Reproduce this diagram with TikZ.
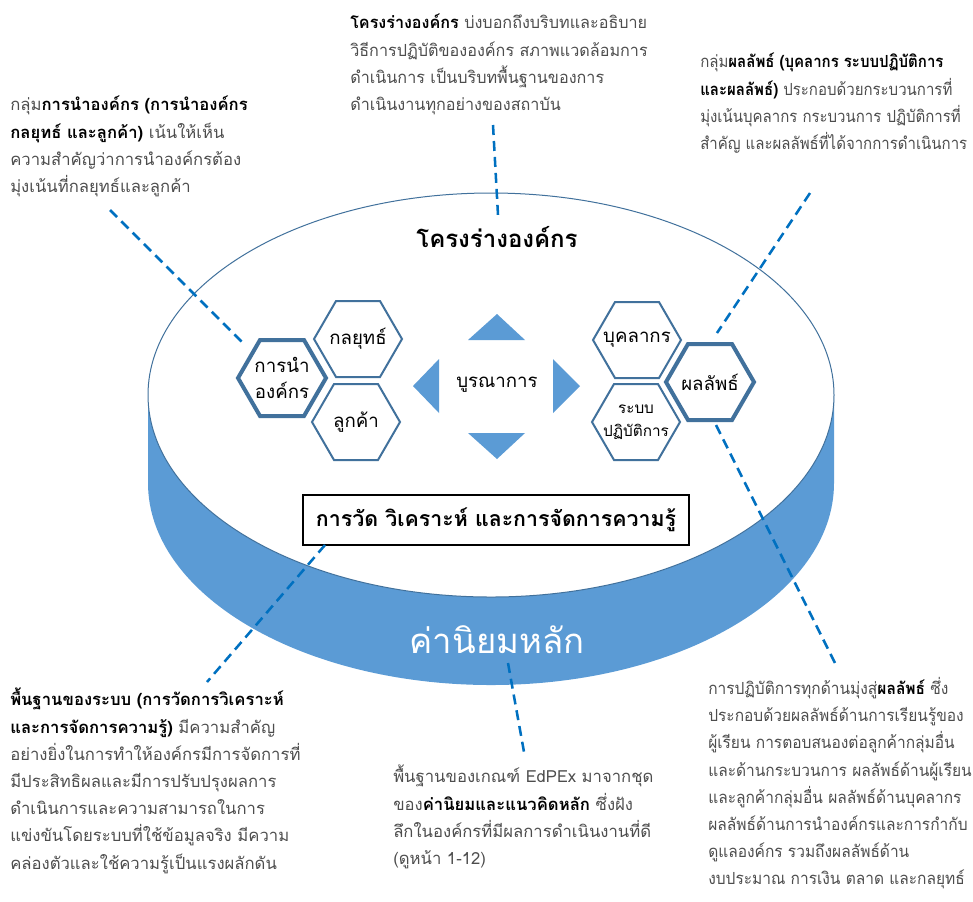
\documentclass[tikz,border=0pt]{standalone}
\usepackage{fontspec}
\setmainfont[Script=Thai]{Loma}
\newfontfamily\tcfont[Script=Thai, FakeStretch=0.97]{Loma}
\newfontfamily\trfont[Script=Thai, FakeStretch=0.9]{Loma}
\newfontfamily\brfont[Script=Thai, FakeStretch=0.93]{Loma}
\usetikzlibrary{calc}
\definecolor{band}{HTML}{5B9BD5}
\definecolor{hexc}{HTML}{41719C}
\definecolor{dashc}{HTML}{0070C0}
\definecolor{txt}{HTML}{4D4D4D}
\newcommand\bodyfont{\fontsize{12.5}{20.4}\selectfont}
\newcommand\bd[1]{\textcolor{black}{\textbf{#1}}}
\tikzset{
  hexa/.pic={\path[pic actions] (44,0) -- (22,38) -- (-22,38) -- (-44,0) -- (-22,-38) -- (22,-38) -- cycle;},
  hexthin/.style={draw=hexc, line width=1.5pt, fill=white},
  hexthick/.style={draw=hexc, line width=3pt, fill=white},
  body/.style={anchor=north west, inner sep=0pt, align=left, text=txt, font=\bodyfont},
  hexlabel/.style={inner sep=0pt, align=center, font=\fontsize{14}{19}\selectfont},
  tri/.style={fill=band},
  callout/.style={draw=dashc, line width=1.9pt, dash pattern=on 7.5pt off 4.5pt},
}
\begin{document}
\begin{tikzpicture}[x=0.75pt,y=-0.75pt]
\useasboundingbox (0,0) rectangle (973,901);
% cylinder band
\fill[band] (148,395) -- (148,483) arc[start angle=180, end angle=0, x radius=343, y radius=202]
  -- (834,395) arc[start angle=0, end angle=180, x radius=343, y radius=202] -- cycle;
\draw[draw=hexc, line width=0.75pt, fill=white] (491,395) ellipse [x radius=343, y radius=202];
\node[text=white, font=\fontsize{26}{30}\selectfont] (core) at (497,640) {ค่านิยมหลัก};
\node[font=\fontsize{18}{22}\selectfont\bfseries] (frame) at (497,237) {โครงร่างองค์กร};
% hexagons
\pic[hexthin] at (358,339) {hexa};
\pic[hexthin] at (356,422) {hexa};
\pic[hexthick] at (282,378) {hexa};
\pic[hexthin] at (637,340) {hexa};
\pic[hexthin] at (636,422) {hexa};
\pic[hexthick] at (710,382) {hexa};
\node[hexlabel] (strat) at (358,339) {กลยุทธ์};
\node[hexlabel] (cust) at (356,422) {ลูกค้า};
\node[hexlabel] (lead) at (282,378) {การนำ\\องค์กร};
\node[hexlabel] (work) at (637,340) {บุคลากร};
\node[hexlabel, font=\fontsize{11.5}{17}\selectfont] (ops) at (636,422) {ระบบ\\ปฏิบัติการ};
\node[hexlabel] (res) at (710,382) {ผลลัพธ์};
% integration
\fill[tri] (497,314) -- (525,340) -- (468,340) -- cycle;
\fill[tri] (497,459) -- (525,433) -- (468,433) -- cycle;
\fill[tri] (413,386) -- (439,359) -- (439,413) -- cycle;
\fill[tri] (580,386) -- (553,359) -- (553,413) -- cycle;
\node[font=\fontsize{14}{18}\selectfont] (integ) at (497,385) {บูรณาการ};
% measurement box
\node[draw=black, line width=1.1pt, fill=white, minimum width=289.5pt, minimum height=37.5pt, inner sep=0pt,
  font=\fontsize{16}{20}\selectfont\bfseries] (meas) at (496,520) {การวัด วิเคราะห์ และการจัดการความรู้};
% text blocks
\node[body] (tl) at (10,96) {กลุ่ม\bd{การนำองค์กร (การนำองค์กร}\\\bd{กลยุทธ์ และลูกค้า)} เน้นให้เห็น\\ความสำคัญว่าการนำองค์กรต้อง\\มุ่งเน้นที่กลยุทธ์และลูกค้า};
\node[body, font=\tcfont\bodyfont] (tc) at (350,14) {\bd{โครงร่างองค์กร} บ่งบอกถึงบริบทและอธิบาย\\วิธีการปฏิบัติขององค์กร สภาพแวดล้อมการ\\ดำเนินการ เป็นบริบทพื้นฐานของการ\\ดำเนินงานทุกอย่างของสถาบัน};
\node[body, font=\trfont\bodyfont] (tr) at (700,53) {กลุ่ม\bd{ผลลัพธ์ (บุคลากร ระบบปฏิบัติการ}\\\bd{และผลลัพธ์)} ประกอบด้วยกระบวนการที่\\มุ่งเน้นบุคลากร กระบวนการ ปฏิบัติการที่\\สำคัญ และผลลัพธ์ที่ได้จากการดำเนินการ};
\node[body] (bl) at (10,688) {\bd{พื้นฐานของระบบ (การวัดการวิเคราะห์}\\\bd{และการจัดการความรู้)} มีความสำคัญ\\อย่างยิ่งในการทำให้องค์กรมีการจัดการที่\\มีประสิทธิผลและมีการปรับปรุงผลการ\\ดำเนินการและความสามารถในการ\\แข่งขันโดยระบบที่ใช้ข้อมูลจริง มีความ\\คล่องตัวและใช้ความรู้เป็นแรงผลักดัน};
\node[body] (bc) at (393,765) {พื้นฐานของเกณฑ์ EdPEx มาจากชุด\\ของ\bd{ค่านิยมและแนวคิดหลัก} ซึ่งฝัง\\ลึกในองค์กรที่มีผลการดำเนินงานที่ดี\\(ดูหน้า 1-12)};
\node[body, font=\brfont\bodyfont] (br) at (708,677) {การปฏิบัติการทุกด้านมุ่งสู่\bd{ผลลัพธ์} ซึ่ง\\ประกอบด้วยผลลัพธ์ด้านการเรียนรู้ของ\\ผู้เรียน การตอบสนองต่อลูกค้ากลุ่มอื่น\\และด้านกระบวนการ ผลลัพธ์ด้านผู้เรียน\\และลูกค้ากลุ่มอื่น ผลลัพธ์ด้านบุคลากร\\ผลลัพธ์ด้านการนำองค์กรและการกำกับ\\ดูแลองค์กร รวมถึงผลลัพธ์ด้าน\\งบประมาณ การเงิน ตลาด และกลยุทธ์};
% callout lines
\coordinate (c1a) at (493,125); \coordinate (c1b) at (498,215);
\coordinate (c2a) at (110,210); \coordinate (c2b) at (243,343);
\coordinate (c3a) at (810,193); \coordinate (c3b) at (717,333);
\coordinate (c4a) at (716,425); \coordinate (c4b) at (836,665);
\coordinate (c5a) at (325,545); \coordinate (c5b) at (207,682);
\coordinate (c6a) at (508,663); \coordinate (c6b) at (524,752);
\draw[callout] (c1a) -- (c1b);
\draw[callout] (c2a) -- (c2b);
\draw[callout] (c3a) -- (c3b);
\draw[callout] (c4a) -- (c4b);
\draw[callout] (c5a) -- (c5b);
\draw[callout] (c6a) -- (c6b);
\end{tikzpicture}
\end{document}
